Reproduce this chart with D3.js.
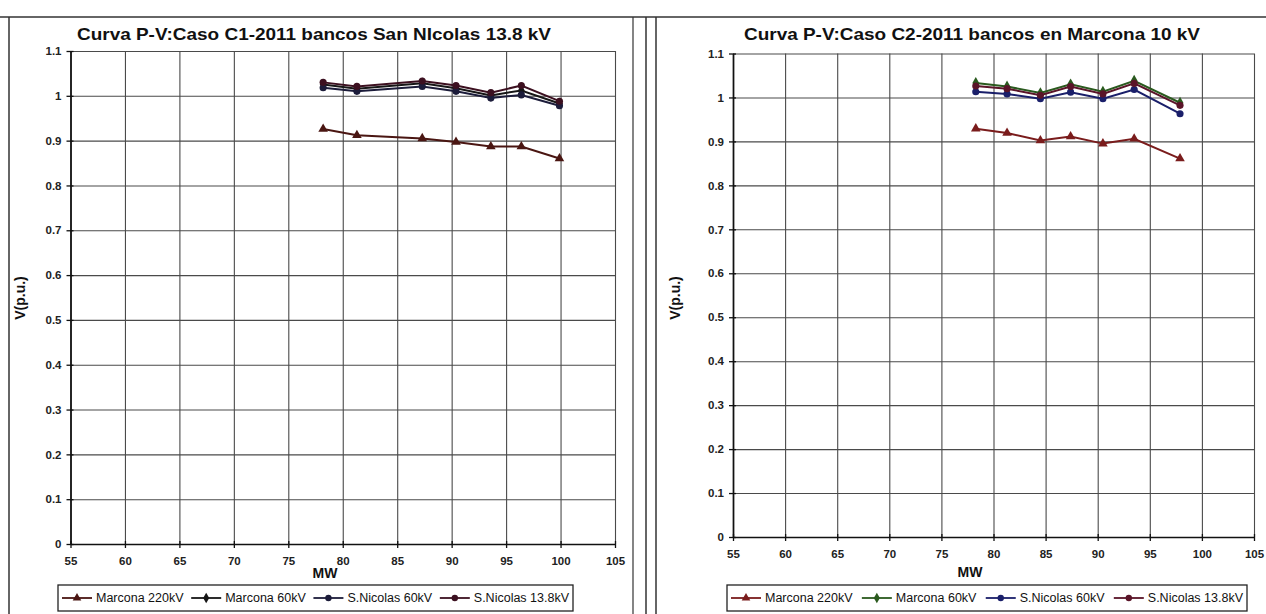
<!DOCTYPE html>
<html><head><meta charset="utf-8">
<script src="https://cdn.jsdelivr.net/npm/d3@7"></script>
<style>body{margin:0;background:#fff} svg{display:block}</style>
</head><body>
<svg id="c" width="1266" height="614"></svg>
<script>
// ---------- data ----------
const xTicks = [55, 60, 65, 70, 75, 80, 85, 90, 95, 100, 105];
const yTicks = [0, 0.1, 0.2, 0.3, 0.4, 0.5, 0.6, 0.7, 0.8, 0.9, 1, 1.1];
const seriesNames = ["Marcona 220kV", "Marcona 60kV", "S.Nicolas 60kV", "S.Nicolas 13.8kV"];

const c1Title = "Curva P-V:Caso C1-2011 bancos San NIcolas 13.8 kV";
const c1MW = [78.2, 81.3, 87.3, 90.4, 93.6, 96.4, 99.9];
const c1Marcona220 = [0.926, 0.912, 0.905, 0.897, 0.887, 0.887, 0.860];
const c1Marcona60 = [1.025, 1.016, 1.028, 1.017, 1.001, 1.012, 0.983];
const c1SNicolas60 = [1.018, 1.010, 1.021, 1.010, 0.995, 1.002, 0.978];
const c1SNicolas138 = [1.030, 1.021, 1.033, 1.023, 1.007, 1.023, 0.988];

const c2Title = "Curva P-V:Caso C2-2011 bancos en Marcona 10 kV";
const c2MW = [78.3, 81.3, 84.5, 87.4, 90.5, 93.5, 97.9];
const c2Marcona220 = [0.929, 0.919, 0.902, 0.911, 0.895, 0.906, 0.861];
const c2Marcona60 = [1.033, 1.025, 1.010, 1.030, 1.013, 1.038, 0.988];
const c2SNicolas60 = [1.013, 1.008, 0.997, 1.012, 0.997, 1.018, 0.963];
const c2SNicolas138 = [1.026, 1.020, 1.005, 1.025, 1.008, 1.032, 0.982];

const xLabel = "MW";
const yLabel = "V(p.u.)";

// ---------- drawing ----------
const svg = d3.select("#c");
const symbols = [d3.symbolTriangle, d3.symbolDiamond, d3.symbolCircle, d3.symbolCircle];
const FONT = "'Liberation Sans', Arial, sans-serif";
const NARROW = "'Liberation Sans Narrow', 'Arial Narrow', 'Liberation Sans', Arial, sans-serif";

// panel frames
const frame = svg.append("g").attr("stroke", "#333").attr("fill", "none");
frame.append("line").attr("x1", 0).attr("x2", 1266).attr("y1", 17).attr("y2", 17).attr("stroke-width", 1.5);
frame.append("line").attr("x1", 9).attr("x2", 9).attr("y1", 17).attr("y2", 614).attr("stroke-width", 1.5);
frame.append("line").attr("x1", 633).attr("x2", 633).attr("y1", 17).attr("y2", 614).attr("stroke-width", 1.2);
frame.append("line").attr("x1", 646).attr("x2", 646).attr("y1", 17).attr("y2", 614).attr("stroke-width", 1.5);
frame.append("line").attr("x1", 656).attr("x2", 656).attr("y1", 17).attr("y2", 614).attr("stroke-width", 1.5);

function drawPanel(o) {
  const g = svg.append("g");
  const x = d3.scaleLinear().domain([55, 105]).range([o.x0, o.x1]);
  const y = d3.scaleLinear().domain([0, 1.1]).range([o.y0, o.y1]);

  // gridlines
  g.append("g").attr("transform", `translate(${o.x0},0)`)
    .call(d3.axisLeft(y).tickValues(yTicks).tickSize(-(o.x1 - o.x0)).tickFormat(""))
    .call(s => s.select(".domain").remove())
    .selectAll("line").attr("stroke", "#4a4a4a").attr("stroke-width", 1.1);
  g.append("g").attr("transform", `translate(0,${o.y0})`)
    .call(d3.axisBottom(x).tickValues(xTicks).tickSize(-(o.y0 - o.y1)).tickFormat(""))
    .call(s => s.select(".domain").remove())
    .selectAll("line").attr("stroke", "#4a4a4a").attr("stroke-width", 1.1);

  // axes
  const ya = g.append("g").attr("transform", `translate(${o.x0},0)`)
    .call(d3.axisLeft(y).tickValues(yTicks).tickSize(4).tickSizeOuter(0).tickPadding(5).tickFormat(d3.format("~g")));
  ya.select(".domain").attr("stroke", "#111").attr("stroke-width", 1.7);
  ya.selectAll(".tick line").attr("x1", 3).attr("stroke", "#111").attr("stroke-width", 1.3);
  ya.selectAll(".tick text").attr("font-family", FONT).attr("font-weight", "bold").attr("font-size", 11.5).attr("fill", "#222");

  const xa = g.append("g").attr("transform", `translate(0,${o.y0})`)
    .call(d3.axisBottom(x).tickValues(xTicks).tickSize(4).tickSizeOuter(0).tickPadding(9));
  xa.select(".domain").attr("stroke", "#111").attr("stroke-width", 1.7);
  xa.selectAll(".tick line").attr("y1", -3).attr("stroke", "#111").attr("stroke-width", 1.3);
  xa.selectAll(".tick text").attr("font-family", FONT).attr("font-weight", "bold").attr("font-size", 11.5).attr("fill", "#222");

  // series
  const line = d3.line().x(d => x(d[0])).y(d => y(d[1]));
  o.series.forEach((s, i) => {
    const pts = o.mw.map((m, k) => [m, s[k]]);
    g.append("path").datum(pts).attr("d", line).attr("fill", "none")
      .attr("stroke", o.colors[i]).attr("stroke-width", 2);
    g.append("g").selectAll("path").data(pts).join("path")
      .attr("transform", d => `translate(${x(d[0])},${y(d[1])})`)
      .attr("d", d3.symbol().type(symbols[i]).size(40))
      .attr("fill", o.colors[i]);
  });

  // title
  g.append("text").attr("x", o.titleX).attr("y", 40).attr("text-anchor", "middle")
    .attr("font-family", FONT).attr("font-weight", "bold").attr("font-size", 16.5)
    .attr("textLength", o.titleW).attr("lengthAdjust", "spacingAndGlyphs")
    .attr("fill", "#111").text(o.title);

  // axis titles
  g.append("text").attr("transform", `translate(${o.yLabelX},298) rotate(-90)`)
    .attr("text-anchor", "middle").attr("font-family", FONT).attr("font-weight", "bold")
    .attr("font-size", 14).attr("fill", "#111").text(yLabel);
  g.append("text").attr("x", o.mwX).attr("y", o.mwY).attr("text-anchor", "middle")
    .attr("font-family", FONT).attr("font-weight", "bold").attr("font-size", 14)
    .attr("fill", "#111").text(xLabel);

  // legend
  const lg = g.append("g");
  lg.append("rect").attr("x", o.lx).attr("y", 585).attr("width", o.lw).attr("height", 26)
    .attr("fill", "#fff").attr("stroke", "#222").attr("stroke-width", 1.3);
  const items = lg.selectAll("g.it").data(seriesNames).join("g").attr("class", "it");
  const texts = items.append("text").attr("y", 602).attr("font-family", NARROW)
    .attr("font-size", 12.5).attr("fill", "#111").text(d => d);
  const widths = texts.nodes().map(n => n.getComputedTextLength());
  const lineLen = 30, gap1 = 4;
  const total = d3.sum(widths) + seriesNames.length * (lineLen + gap1);
  const spare = (o.lw - 8 - total) / (seriesNames.length - 1);
  let cx = o.lx + 4;
  items.each(function (d, i) {
    const it = d3.select(this);
    it.insert("line", "text").attr("x1", cx).attr("x2", cx + lineLen).attr("y1", 598).attr("y2", 598)
      .attr("stroke", o.colors[i]).attr("stroke-width", 1.8);
    it.insert("path", "text").attr("transform", `translate(${cx + lineLen / 2},598)`)
      .attr("d", d3.symbol().type(symbols[i]).size(32)).attr("fill", o.colors[i]);
    it.select("text").attr("x", cx + lineLen + gap1);
    cx += lineLen + gap1 + widths[i] + spare;
  });
}

drawPanel({
  x0: 70.5, x1: 615, y0: 544, y1: 51,
  title: c1Title, titleX: 314, titleW: 474,
  mw: c1MW, series: [c1Marcona220, c1Marcona60, c1SNicolas60, c1SNicolas138],
  colors: ["#4a1612", "#161616", "#1c1c3a", "#3c1020"],
  yLabelX: 25, mwX: 325, mwY: 578, lx: 58, lw: 515
});

drawPanel({
  x0: 733, x1: 1254, y0: 537, y1: 53.5,
  title: c2Title, titleX: 972, titleW: 456,
  mw: c2MW, series: [c2Marcona220, c2Marcona60, c2SNicolas60, c2SNicolas138],
  colors: ["#7a1c1c", "#2a5a1e", "#1a1f6a", "#5a1428"],
  yLabelX: 680, mwX: 970, mwY: 577, lx: 727, lw: 520
});
</script>
</body></html>
